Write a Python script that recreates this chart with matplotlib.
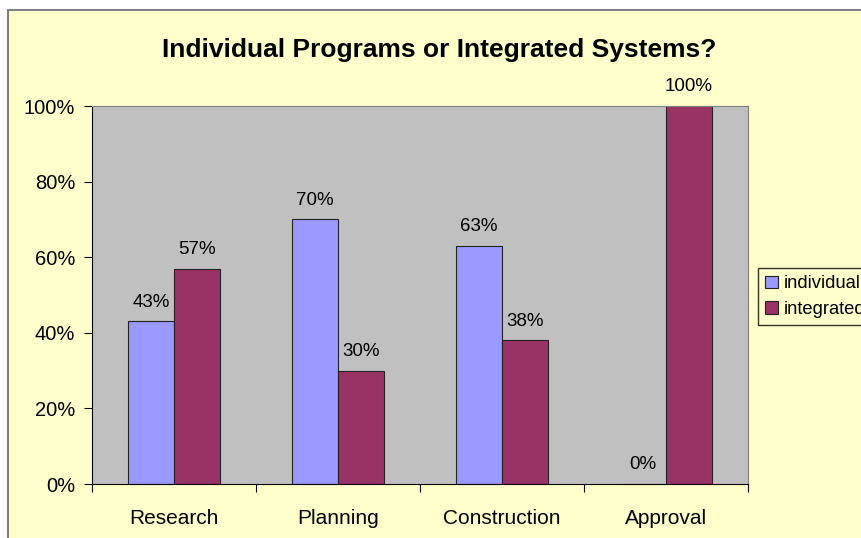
import numpy as np
import matplotlib.pyplot as plt
from matplotlib.patches import Rectangle
from matplotlib.ticker import PercentFormatter

categories = ['Research', 'Planning', 'Construction', 'Approval']
individual = [43, 70, 63, 0]
integrated = [57, 30, 38, 100]
series_names = ['individual', 'integrated']

plt.rcParams['font.family'] = ['Liberation Sans', 'DejaVu Sans']

fig = plt.figure(figsize=(8.62, 5.38), dpi=100)
fig.patch.set_facecolor('white')
# outer chart frame (cut off on right and bottom like the original)
fig.patches.append(Rectangle((8 / 862, -0.1), 1.0, 1 - 10 / 538 + 0.1,
                             transform=fig.transFigure, facecolor='#FFFFCC',
                             edgecolor='#808080', linewidth=1.5, zorder=-5))

ax = fig.add_axes([92 / 862, 1 - 484 / 538, 656 / 862, 378 / 538])
ax.set_facecolor('#C0C0C0')

x = np.arange(len(categories))
w = 0.28
b1 = ax.bar(x - w / 2, individual, w, color='#9999FF', edgecolor='#222222',
            linewidth=0.8, label=series_names[0])
b2 = ax.bar(x + w / 2, integrated, w, color='#993366', edgecolor='#222222',
            linewidth=0.8, label=series_names[1])

for bars, vals in ((b1, individual), (b2, integrated)):
    for r, v in zip(bars, vals):
        ax.text(r.get_x() + r.get_width() / 2, v + 2.8, f'{v}%', ha='center',
                va='bottom', fontsize=13.5)

ax.set_xlim(-0.5, len(categories) - 0.5)
ax.set_ylim(0, 100)
ax.set_yticks(np.arange(0, 101, 20))
ax.yaxis.set_major_formatter(PercentFormatter(decimals=0))
ax.set_xticks(np.arange(-0.5, len(categories), 1))
ax.set_xticklabels([])
ax.set_xticks(x, minor=True)
ax.set_xticklabels(categories, minor=True)
ax.tick_params(axis='x', which='minor', length=0, pad=18, labelsize=15)
ax.tick_params(axis='x', which='major', length=6, direction='out')
ax.tick_params(axis='y', length=6, direction='out', labelsize=14.5, pad=6)

for s in ('top', 'right'):
    ax.spines[s].set_color('#808080')
for s in ('left', 'bottom'):
    ax.spines[s].set_color('black')

ax.set_title('Individual Programs or Integrated Systems?', fontsize=19,
             fontweight='bold', pad=35, x=0.53)

ax.legend(loc='upper left', bbox_to_anchor=(758 / 862, 1 - 268 / 538),
          bbox_transform=fig.transFigure, frameon=True, fancybox=False,
          edgecolor='black', facecolor='#FFFFCC', fontsize=13.2,
          handlelength=0.7, handleheight=0.7, handletextpad=0.3,
          borderpad=0.4, labelspacing=0.45, borderaxespad=0)

fig.savefig('out.png', dpi=100)
